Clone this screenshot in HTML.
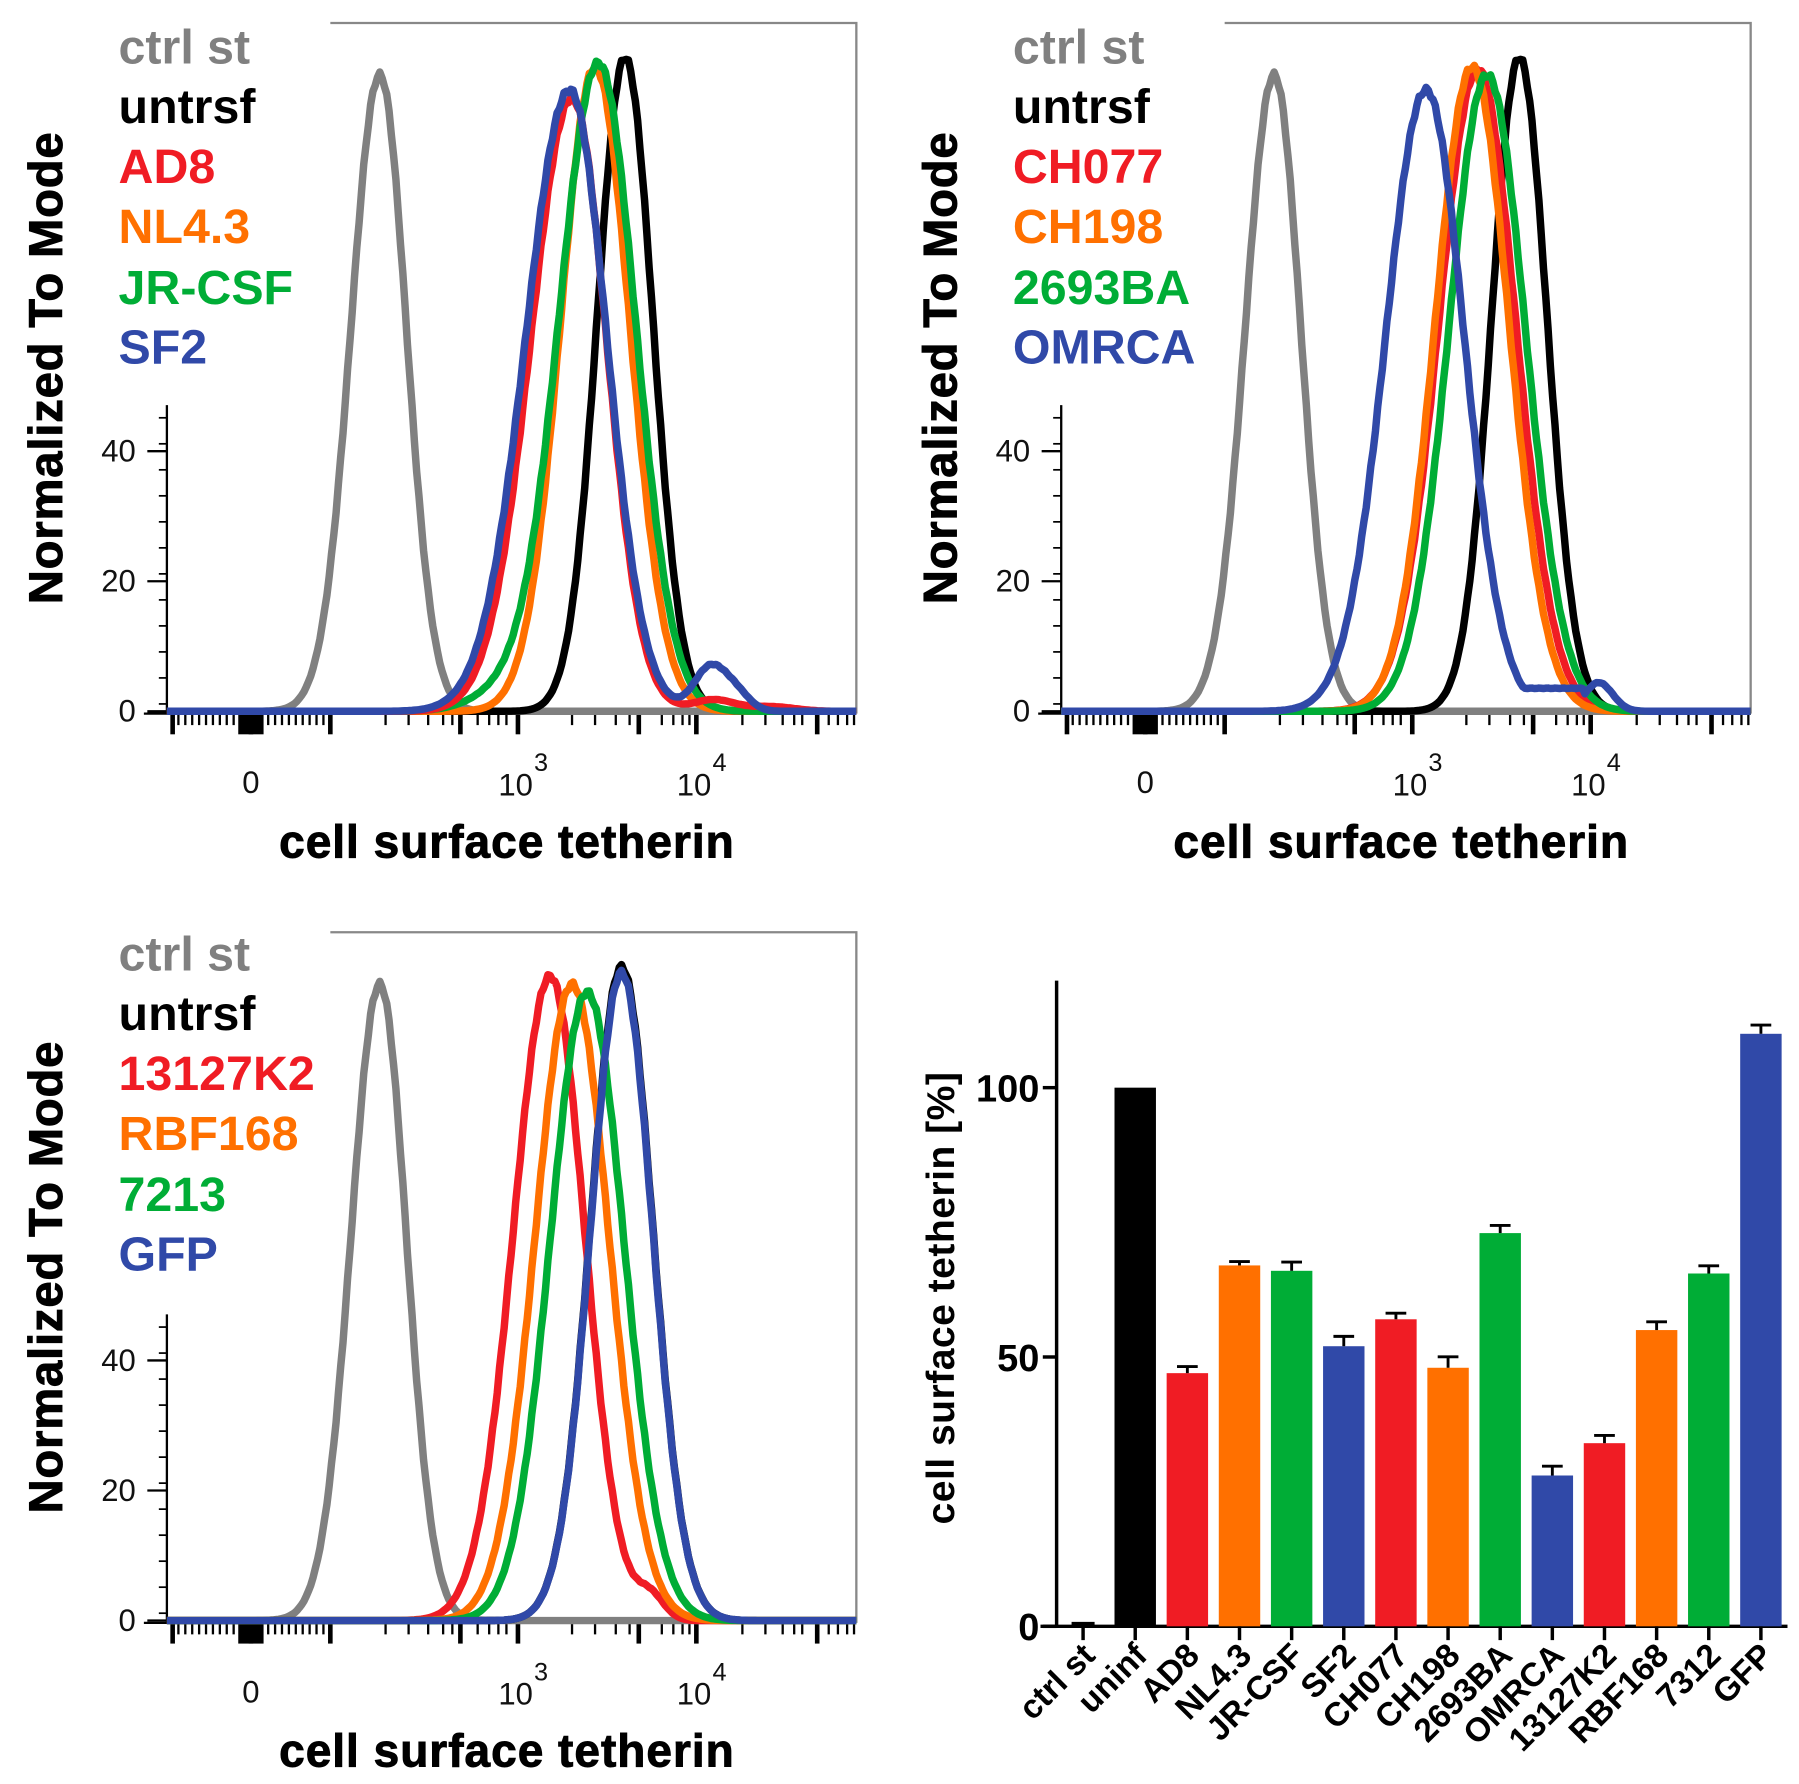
<!DOCTYPE html>
<html><head><meta charset="utf-8"><style>
html,body{margin:0;padding:0;background:#fff;}
svg{display:block;}
text{font-family:"Liberation Sans",Arial,sans-serif;}
</style></head><body>
<svg id="s" width="1799" height="1784" viewBox="0 0 1563 1550" preserveAspectRatio="none" xmlns="http://www.w3.org/2000/svg">
<rect width="1563" height="1550" fill="#fff"/>
<g id="p1"></g><g id="p2" transform="translate(777,0)"></g><g id="p3" transform="translate(0,790)"></g>
<g font-weight="bold" font-size="42">
<text x="103" y="55" fill="#808080">ctrl st</text>
<text x="103" y="107" fill="#000">untrsf</text>
<text x="103" y="159" fill="#f01c24">AD8</text>
<text x="103" y="211" fill="#ff7000">NL4.3</text>
<text x="103" y="264" fill="#00ad36">JR-CSF</text>
<text x="103" y="316" fill="#3049a8">SF2</text>
<text x="880" y="55" fill="#808080">ctrl st</text>
<text x="880" y="107" fill="#000">untrsf</text>
<text x="880" y="159" fill="#f01c24">CH077</text>
<text x="880" y="211" fill="#ff7000">CH198</text>
<text x="880" y="264" fill="#00ad36">2693BA</text>
<text x="880" y="316" fill="#3049a8">OMRCA</text>
<text x="103" y="843" fill="#808080">ctrl st</text>
<text x="103" y="895" fill="#000">untrsf</text>
<text x="103" y="947" fill="#f01c24">13127K2</text>
<text x="103" y="999" fill="#ff7000">RBF168</text>
<text x="103" y="1052" fill="#00ad36">7213</text>
<text x="103" y="1104" fill="#3049a8">GFP</text>
</g>
<g id="bar"></g>
</svg>
<script>
var NS="http://www.w3.org/2000/svg";
function el(p,t,a,txt){var e=document.createElementNS(NS,t);for(var k in a)e.setAttribute(k,a[k]);if(txt!=null)e.textContent=txt;p.appendChild(e);return e;}
var C={gray:"#808080",black:"#000",red:"#f01c24",orange:"#ff7000",green:"#00ad36",blue:"#3049a8"};
function curve(g,base,col,cx,py,sl,sr,bumps,plat){
  var d="M145,"+base;
  for(var x=146;x<=744;x+=2){
    var s=x<cx?sl:sr;var h=(base-py)*Math.exp(-Math.pow((x-cx)/s,2)/2);
    if(bumps)bumps.forEach(function(b){h+=b[1]*Math.exp(-Math.pow((x-b[0])/b[2],2)/2);});
    if(plat&&x>plat[0]&&x<plat[1])h=Math.max(h,plat[2]);
    h+=Math.sin(x*0.9)*Math.min(h,200)*0.012;
    d+=" L"+x+","+(base-h).toFixed(1);
  }
  el(g,"path",{d:d,fill:"none",stroke:col,"stroke-width":6.5,"stroke-linejoin":"round"});
}
function frame(g){
  el(g,"path",{d:"M287,20 H744 V620",fill:"none",stroke:"#888","stroke-width":2});
  el(g,"line",{x1:145,y1:352,x2:145,y2:620,stroke:"#000","stroke-width":2});
  [[618,"0"],[505,"20"],[392,"40"]].forEach(function(t){
    el(g,"line",{x1:128,y1:t[0],x2:145,y2:t[0],stroke:"#000","stroke-width":2});
    el(g,"text",{x:118,y:t[0]+9,"font-size":27,"text-anchor":"end",fill:"#111"},t[1]);});
  for(var y=363;y<618;y+=22.6){el(g,"line",{x1:138,y1:y,x2:145,y2:y,stroke:"#000","stroke-width":1.5});}
  el(g,"line",{x1:125,y1:620,x2:744,y2:620,stroke:"#000","stroke-width":2});
  var maj=[150,218,287,400,450,555,605,710],mi=[];
  for(var x=155;x<290;x+=6)mi.push(x);
  [335,355,372,385,393,415,425,433,440,497,517,535,547,575,585,593,599,645,665,680,690,697,720,728,736,742].forEach(function(x){mi.push(x);});
  mi.forEach(function(x){el(g,"line",{x1:x,y1:621,x2:x,y2:630,stroke:"#000","stroke-width":2});});
  maj.forEach(function(x){el(g,"line",{x1:x,y1:621,x2:x,y2:638,stroke:"#000","stroke-width":4});});
  el(g,"rect",{x:207,y:621,width:22,height:17,fill:"#000"});
  el(g,"text",{x:218,y:689,"font-size":27,"text-anchor":"middle",fill:"#111"},"0");
  el(g,"text",{x:433,y:691,"font-size":27,fill:"#111"},"10");
  el(g,"text",{x:464,y:670,"font-size":22,fill:"#111"},"3");
  el(g,"text",{x:588,y:691,"font-size":27,fill:"#111"},"10");
  el(g,"text",{x:619,y:670,"font-size":22,fill:"#111"},"4");
  el(g,"text",{x:440,y:745,"font-size":40,"font-weight":"bold","text-anchor":"middle",fill:"#000",stroke:"#000","stroke-width":0.8,textLength:395},"cell surface tetherin");
  el(g,"text",{x:0,y:0,"font-size":41,"font-weight":"bold","text-anchor":"middle",fill:"#000",stroke:"#000","stroke-width":0.8,textLength:410,transform:"translate(54,320) rotate(-90)"},"Normalized To Mode");
}
var p1=document.getElementById("p1"),p2=document.getElementById("p2"),p3=document.getElementById("p3");
[p1,p2,p3].forEach(frame);
var B=618;
curve(p1,B,C.gray,330,65,25,23);
curve(p1,B,C.black,543,50,24,24);
curve(p1,B,C.orange,517,58,30,30);
curve(p1,B,C.green,520,55,34,32,[[440,15,30]]);
curve(p1,B,C.red,497,85,36,30,[[620,10,18],[670,4,20]]);
curve(p1,B,C.blue,495,78,38,32,[[617,38,14],[640,14,12]]);
curve(p2,B,C.gray,330,65,25,23);
curve(p2,B,C.black,543,50,24,24);
curve(p2,B,C.red,507,60,34,33);
curve(p2,B,C.orange,502,58,32,32);
curve(p2,B,C.green,515,65,33,33);
curve(p2,B,C.blue,462,78,35,33,[[612,25,12]],[500,600,20]);
curve(p3,B,C.gray,330,65,25,23);
curve(p3,B,C.black,540,50,27,27);
curve(p3,B,C.red,478,58,32,30,[[565,20,12]]);
curve(p3,B,C.orange,497,65,32,32);
curve(p3,B,C.green,510,72,32,32);
curve(p3,B,C.blue,540,55,27,27);
var bg=document.getElementById("bar");
var y0=1413,k=4.68;
el(bg,"line",{x1:918,y1:852,x2:918,y2:1413,stroke:"#000","stroke-width":3});
el(bg,"line",{x1:904,y1:1413,x2:1553,y2:1413,stroke:"#000","stroke-width":3});
[[0,"0"],[50,"50"],[100,"100"]].forEach(function(t){var y=y0-t[0]*k;
 el(bg,"line",{x1:906,y1:y,x2:918,y2:y,stroke:"#000","stroke-width":3});
 el(bg,"text",{x:903,y:y+12,"font-size":33,"font-weight":"bold","text-anchor":"end",fill:"#000"},t[1]);});
el(bg,"text",{x:0,y:0,"font-size":34,"font-weight":"bold","text-anchor":"middle",fill:"#000",textLength:393,transform:"translate(829,1128) rotate(-90)"},"cell surface tetherin [%]");
var bars=[["ctrl st",0.5,"black",0],["uninf",100,"black",0],["AD8",47,"red",0.8],["NL4.3",67,"orange",0.3],["JR-CSF",66,"green",1.2],["SF2",52,"blue",1.4],["CH077",57,"red",0.7],["CH198",48,"orange",1.6],["2693BA",73,"green",1],["OMRCA",28,"blue",1.3],["13127K2",34,"red",1],["RBF168",55,"orange",1.1],["7312",65.5,"green",1],["GFP",110,"blue",1.2]];
bars.forEach(function(b,i){var cx=941+i*45.3,w=36,top=y0-b[1]*k;
 if(i>0)el(bg,"rect",{x:cx-w/2,y:top,width:w,height:y0-top,fill:C[b[2]]});
 else el(bg,"line",{x1:cx-10,y1:top,x2:cx+10,y2:top,stroke:"#000","stroke-width":3});
 if(b[3]>0){var ey=top-b[3]*k-2;el(bg,"line",{x1:cx,y1:ey,x2:cx,y2:top,stroke:"#000","stroke-width":2.5});
  el(bg,"line",{x1:cx-9,y1:ey,x2:cx+9,y2:ey,stroke:"#000","stroke-width":2.5});}
 el(bg,"line",{x1:cx,y1:1413,x2:cx,y2:1425,stroke:"#000","stroke-width":3});
 el(bg,"text",{x:0,y:0,"font-size":29,"font-weight":"bold","text-anchor":"end",fill:"#000",transform:"translate("+(cx+12)+",1440) rotate(-45)"},b[0]);
});
</script>
</body></html>
